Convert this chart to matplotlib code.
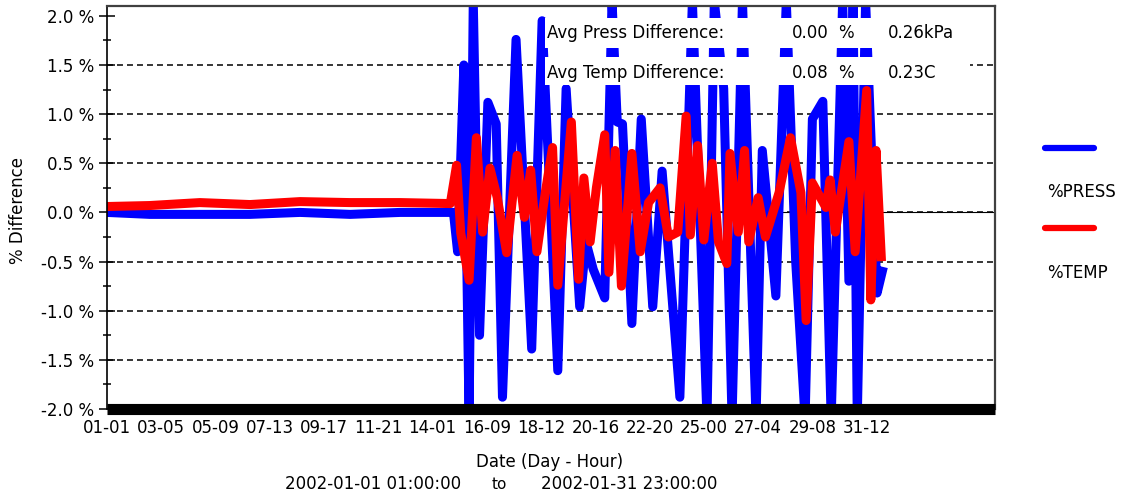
import matplotlib
matplotlib.use("Agg")
import matplotlib.pyplot as plt
from matplotlib.lines import Line2D
from matplotlib.patches import Rectangle

plt.rcParams['font.family'] = ['DejaVu Sans']
plt.rcParams['lines.scale_dashes'] = False

# x axis: hourly samples, a labelled tick every 52 samples
tick_labels = ["01-01", "03-05", "05-09", "07-13", "09-17", "11-21", "14-01", "16-09",
               "18-12", "20-16", "22-20", "25-00", "27-04", "29-08", "31-12"]
tick_step = 52
n_slots = 851

# %PRESS difference (turning points)
press_hours = [0, 41, 137, 185, 233, 281, 329, 332, 336, 342, 347, 351, 357, 365, 373, 379,
               392, 407, 417, 432, 440, 453, 459, 466, 477, 484, 489, 494, 503, 512, 523, 532,
               549, 561, 575, 582, 591, 599, 609, 622, 628, 641, 651, 660, 669, 676, 686, 694,
               705, 711, 715, 719, 727, 738, 743]
press_vals = [0.0, -0.02, -0.02, 0.0, -0.02, 0.0, 0.0, 0.0, -0.4, 1.5, -2.1, 2.15, -1.25, 1.12, 0.9, -1.88,
              1.76, -1.39, 1.95, -1.61, 1.26, -0.96, -0.3, -0.58, -0.87, 2.15, 0.92, 0.9, -1.13, 0.95, -0.96, 0.42,
              -1.88, 2.15, -2.1, 2.15, 1.26, -2.1, 2.15, -2.1, 0.63, -0.85, 2.15, -0.5, -2.1, 0.95, 1.13, -2.1,
              2.15, -0.7, 2.15, -2.1, 2.15, -0.82, -0.6]

# %TEMP difference
temp_hours = [0, 41, 89, 137, 185, 233, 281, 329, 335, 339, 347, 354, 360, 367, 374, 383,
              393, 400, 406, 412, 420, 427, 432, 445, 452, 457, 463, 469, 477, 481, 487, 493,
              503, 511, 519, 530, 538, 547, 555, 559, 566, 572, 580, 586, 594, 597, 605, 611,
              615, 624, 631, 644, 655, 665, 670, 676, 689, 693, 698, 711, 717, 728, 732, 737, 742]
temp_vals = [0.06, 0.07, 0.1, 0.08, 0.11, 0.1, 0.1, 0.09, 0.48, -0.21, -0.69, 0.76, -0.2, 0.45, 0.15, -0.41,
             0.58, -0.05, 0.43, -0.4, 0.2, 0.66, -0.74, 0.92, -0.68, 0.35, -0.3, 0.25, 0.79, -0.61, 0.63, -0.75,
             0.6, -0.4, 0.1, 0.25, -0.25, -0.2, 0.98, -0.23, 0.68, -0.28, 0.5, -0.3, -0.52, 0.6, -0.2, 0.63,
             -0.3, 0.15, -0.25, 0.2, 0.76, 0.2, -1.1, 0.3, 0.05, 0.33, -0.2, 0.72, -0.4, 1.24, -0.89, 0.63, -0.45]

y_major = [-2.0, -1.5, -1.0, -0.5, 0.0, 0.5, 1.0, 1.5, 2.0]
y_minor = [-1.75, -1.25, -0.75, -0.25, 0.25, 0.75, 1.25, 1.75]
grid_levels = [-1.5, -1.0, -0.5, 0.0, 0.5, 1.0, 1.5]

summary_rows = [
    ("Avg Press Difference:", "0.00", "%", "0.26kPa"),
    ("Avg Temp Difference:", "0.08", "%", "0.23C"),
]
series_names = ["%PRESS", "%TEMP"]
series_colors = ["#0000ff", "#ff0000"]
period_start = "2002-01-01 01:00:00"
period_end = "2002-01-31 23:00:00"

W, H = 1141, 498
fig = plt.figure(figsize=(W / 100, H / 100), dpi=100)
L, R, T, B = 107, 995, 6, 409
ax = fig.add_axes([L / W, 1 - B / H, (R - L) / W, (B - T) / H])

def axf(px, py):
    # pixel position -> axes fraction
    return (px - L) / (R - L), (B - py) / (B - T)

for lvl in grid_levels:
    ax.axhline(lvl, color="black", lw=1.1, dashes=(4.3, 2.9), zorder=1)
ax.axhline(0.0, color="black", lw=0.8, zorder=1)

ax.plot(press_hours, press_vals, color=series_colors[0], lw=6.5, zorder=2)
ax.plot(temp_hours, temp_vals, color=series_colors[1], lw=6.5, zorder=2.1)

ax.set_xlim(0, n_slots)
ax.set_ylim(-2.0, 2.1)
ax.set_xticks([i * tick_step for i in range(len(tick_labels))])
ax.set_xticklabels(tick_labels, fontsize=12)
ax.tick_params(axis="x", length=0, pad=7)
ax.set_yticks(y_major)
ax.set_yticklabels([f"{v:.1f} %" for v in y_major], fontsize=12)
ax.set_yticks(y_minor, minor=True)
ax.tick_params(axis="y", which="major", direction="inout", length=11.5, width=1.1, pad=3.6)
ax.tick_params(axis="y", which="minor", direction="inout", length=5.8, width=1.1)

ax.spines["bottom"].set_linewidth(8)
ax.spines["bottom"].set_color("black")
ax.spines["bottom"].set_capstyle("butt")
ax.spines["left"].set_linewidth(1.2)
ax.spines["top"].set_linewidth(1.6)
ax.spines["top"].set_color("#404040")
ax.spines["right"].set_linewidth(1.6)
ax.spines["right"].set_color("#404040")

ax.set_xlabel("Date (Day - Hour)", fontsize=12)
ax.xaxis.set_label_coords(*axf(550, 453))
ax.set_ylabel("% Difference", fontsize=12)
ax.yaxis.set_label_coords(*axf(27, 210))

# summary rows with white backing
row_boxes = [(18, 48), (57, 85)]
row_y = [33, 73]
for (top, bot), yc, row in zip(row_boxes, row_y, summary_rows):
    x0, y0 = axf(545, bot)
    x1, y1 = axf(970, top)
    ax.add_patch(Rectangle((x0, y0), x1 - x0, y1 - y0, transform=ax.transAxes,
                           facecolor="white", edgecolor="none", zorder=3))
    ax.text(*axf(547, yc), row[0], transform=ax.transAxes, fontsize=12, ha="left", va="center", zorder=4)
    ax.text(*axf(829, yc), row[1], transform=ax.transAxes, fontsize=12, ha="right", va="center", zorder=4)
    ax.text(*axf(838, yc), row[2], transform=ax.transAxes, fontsize=12, ha="left", va="center", zorder=4)
    ax.text(*axf(888, yc), row[3], transform=ax.transAxes, fontsize=12, ha="left", va="center", zorder=4)

# legend: line swatch above each label
for name, color, ly, ty in zip(series_names, series_colors, [148, 228], [192, 273]):
    fig.add_artist(Line2D([1045 / W, 1094 / W], [1 - ly / H, 1 - ly / H], color=color, lw=4.5,
                          solid_capstyle="round", transform=fig.transFigure))
    fig.text(1047 / W, 1 - ty / H, name, fontsize=12, ha="left", va="center")

fig.text(373 / W, 1 - 489 / H, period_start, fontsize=12, ha="center", va="baseline")
fig.text(499 / W, 1 - 489 / H, "to", fontsize=11, ha="center", va="baseline")
fig.text(629 / W, 1 - 489 / H, period_end, fontsize=12, ha="center", va="baseline")

fig.savefig("out.png", dpi=100)
